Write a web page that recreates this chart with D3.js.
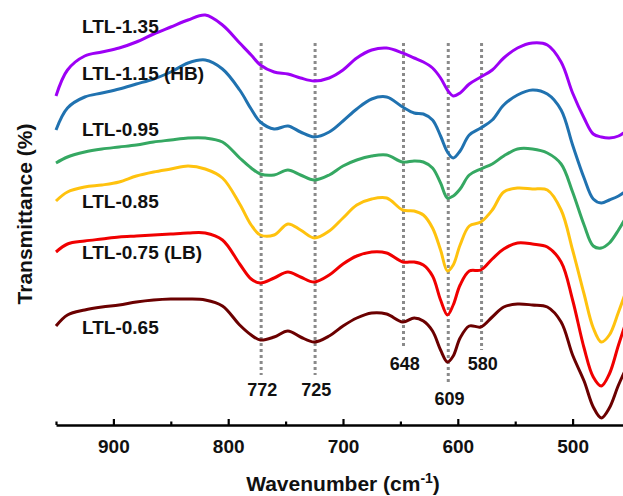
<!DOCTYPE html>
<html>
<head>
<meta charset="utf-8">
<script src="https://cdn.jsdelivr.net/npm/d3@7"></script>
<style>
  html, body { margin: 0; padding: 0; background: #fff; }
  svg { display: block; font-family: Arial, "Liberation Sans", sans-serif; }
</style>
</head>
<body>
<svg id="chart" width="623" height="496"></svg>
<script>
// FTIR spectra, stacked (transmittance in arbitrary units, offset per sample)
const wavenumbers = [950, 940, 925, 910, 895, 880, 865, 850, 835, 820,
  805, 790, 780, 772, 760, 748, 737, 725, 712, 700,
  688, 675, 662, 648, 638, 630, 622, 615, 609, 604,
  598, 590, 580, 570, 560, 548, 535, 522, 510, 500,
  490, 482, 475, 468, 460, 450];

const ltl135 = [86, 92.5, 96, 97, 98, 99.5, 101.5, 103.25, 105, 106.25,
  103.75, 99.25, 96.25, 93.75, 92, 91.5, 90.5, 89.75, 90.5, 92.5,
  95.5, 97.5, 98, 96.75, 95.5, 94.5, 93, 90.5, 87.5, 86,
  86.75, 89, 90.75, 92.5, 95.5, 98, 99.25, 98.75, 94.5, 86.75,
  80.5, 76.5, 75.75, 75.5, 76, 78];
const ltl115 = [77.5, 83, 85.75, 86.75, 87.75, 89, 90.25, 92, 94.25, 95,
  92.75, 87.5, 82.75, 79.5, 77.75, 78.5, 77, 75.75, 77, 79.75,
  82.75, 85.25, 85.75, 83.25, 81.75, 81.5, 80, 76, 72, 70.5,
  72.25, 76.25, 78, 80, 83.75, 86.25, 87.5, 86.5, 82.5, 73.75,
  65.5, 60.25, 59.25, 60, 61, 63];
const ltl095 = [69.25, 70.75, 72, 72.75, 73.25, 73.75, 74.5, 75, 75.5, 75.5,
  74.5, 70.5, 68, 66.5, 66.25, 67.5, 66.25, 65, 66.25, 68.5,
  70, 71, 71.25, 69.5, 69.75, 69.5, 68, 64.25, 60.5, 61,
  62.75, 66.25, 67.75, 69, 71, 72.75, 72.75, 71.75, 69, 62,
  53.75, 48.5, 48, 49.25, 52.5, 57.5];
const ltl085 = [59.75, 62, 63.25, 63.75, 64.5, 66, 67, 67.75, 68.5, 67.75,
  65.5, 59, 53.75, 51.25, 51.25, 54, 52.5, 50.5, 52.25, 55.5,
  58.75, 60.25, 60.5, 57.5, 57.25, 56.25, 53, 47.5, 42.25, 43.75,
  48.75, 53.5, 54.5, 57.5, 62, 63, 62.75, 62.5, 57.5, 47.5,
  36.5, 28, 24.5, 26.25, 32, 40];
const ltl075 = [47, 49, 49.75, 50.25, 50.75, 51, 51.25, 51.5, 51.75, 51.75,
  50, 44, 40.25, 39.25, 40.5, 42, 40.75, 39.5, 41.25, 44,
  46, 47, 46.75, 44.5, 44.5, 43.75, 41, 35, 31.25, 33.75,
  38.75, 42.25, 42.5, 45.25, 47.75, 49.25, 49, 48.25, 44.5, 35,
  23, 15.75, 13.5, 16.5, 23.75, 32.5];
const ltl065 = [28.5, 31.25, 32.5, 33.25, 33.75, 34.5, 35, 35.25, 35.25, 35,
  33.5, 28.75, 26.25, 25, 25.75, 27.25, 25.75, 24.5, 26, 28.5,
  30.5, 31.75, 31.5, 29.5, 30.5, 29.75, 27.25, 22.5, 19.5, 21,
  25.5, 28.5, 28.25, 30.75, 33.25, 34, 33.75, 33.25, 29.5, 21.25,
  14.75, 8.25, 5.5, 8, 13.75, 20];

const seriesNames = ["LTL-1.35", "LTL-1.15 (HB)", "LTL-0.95", "LTL-0.85", "LTL-0.75 (LB)", "LTL-0.65"];
const seriesValues = [ltl135, ltl115, ltl095, ltl085, ltl075, ltl065];
const seriesColors = ["#9d00f5", "#2072b0", "#35a862", "#ffc20e", "#f00000", "#6b0000"];
// label baseline values in the same transmittance units
const labelLevels = [101.75, 90, 76, 58, 45.25, 26.5];

// marked band positions and how far down each guide line reaches
const bands = [772, 725, 648, 609, 580];
const bandLineEnds = [16.25, 16.25, 23.5, 14, 22.5];
const bandLabelLevels = [11, 11, 17.5, 8.75, 17.5];

const majorTicks = [900, 800, 700, 600, 500];
const minorTicks = [950, 850, 750, 650, 550, 450];

const svg = d3.select("#chart");

const x = d3.scaleLinear().domain([950, 450]).range([56, 630]);
const y = d3.scaleLinear().domain([0, 110]).range([440, 0]);

// dotted guide lines
const guides = svg.append("g");
bands.forEach((b, i) => {
  guides.append("line")
    .attr("x1", x(b) + 0.8).attr("x2", x(b) + 0.8)
    .attr("y1", 43).attr("y2", y(bandLineEnds[i]))
    .attr("stroke", "#8a8a8a")
    .attr("stroke-width", 3)
    .attr("stroke-dasharray", "3 3");
  guides.append("text")
    .attr("x", x(b) + 2)
    .attr("y", y(bandLabelLevels[i]))
    .attr("text-anchor", "middle")
    .attr("font-size", 18)
    .attr("font-weight", "bold")
    .attr("fill", "#111")
    .text(b);
});

// spectra
const line = d3.line()
  .x((d, i) => x(wavenumbers[i]))
  .y(d => y(d))
  .curve(d3.curveCatmullRom.alpha(0.5));

seriesValues.forEach((vals, k) => {
  svg.append("path")
    .datum(vals)
    .attr("fill", "none")
    .attr("stroke", seriesColors[k])
    .attr("stroke-width", 3)
    .attr("stroke-linejoin", "round")
    .attr("d", line);
});

// sample labels
seriesNames.forEach((name, k) => {
  svg.append("text")
    .attr("x", 82)
    .attr("y", y(labelLevels[k]))
    .attr("font-size", 19)
    .attr("font-weight", "bold")
    .attr("fill", "#111")
    .text(name);
});

// x axis
const axisY = 425;
const major = d3.axisBottom(x).tickValues(majorTicks).tickSize(-6).tickSizeOuter(0).tickPadding(15);
const gMajor = svg.append("g").attr("transform", `translate(0,${axisY})`).call(major);
gMajor.select(".domain").attr("stroke", "#000").attr("stroke-width", 2.5);
gMajor.selectAll(".tick line").attr("stroke", "#000").attr("stroke-width", 2.2);
gMajor.selectAll(".tick text")
  .attr("font-size", 19).attr("font-weight", "bold").attr("fill", "#111")
  .attr("font-family", "Arial, 'Liberation Sans', sans-serif");

const minor = d3.axisBottom(x).tickValues(minorTicks).tickSize(-3.5).tickSizeOuter(0).tickFormat("");
const gMinor = svg.append("g").attr("transform", `translate(0,${axisY})`).call(minor);
gMinor.select(".domain").remove();
gMinor.selectAll(".tick line").attr("stroke", "#000").attr("stroke-width", 2.2);

// axis titles
const xt = svg.append("text")
  .attr("x", 343).attr("y", 491)
  .attr("text-anchor", "middle")
  .attr("font-size", 21).attr("font-weight", "bold").attr("fill", "#111");
xt.append("tspan").text("Wavenumber (cm");
xt.append("tspan").attr("font-size", 14).attr("dy", -8).text("-1");
xt.append("tspan").attr("dy", 8).text(")");

svg.append("text")
  .attr("transform", "translate(32,214) rotate(-90)")
  .attr("text-anchor", "middle")
  .attr("font-size", 21).attr("font-weight", "bold").attr("fill", "#111")
  .text("Transmittance (%)");
</script>
</body>
</html>
